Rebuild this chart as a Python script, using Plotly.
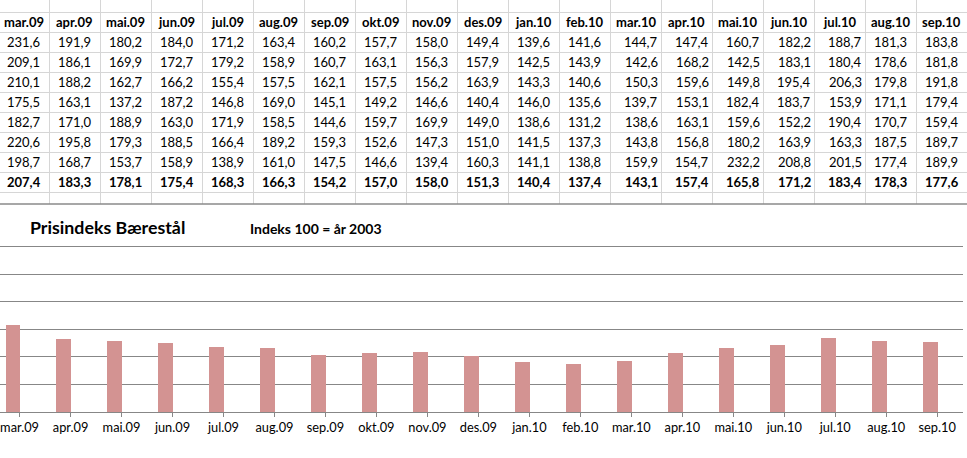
import plotly.graph_objects as go

W, H = 967, 458

months = ["mar.09", "apr.09", "mai.09", "jun.09", "jul.09", "aug.09", "sep.09", "okt.09",
          "nov.09", "des.09", "jan.10", "feb.10", "mar.10", "apr.10", "mai.10", "jun.10",
          "jul.10", "aug.10", "sep.10"]

row1 = [231.6, 191.9, 180.2, 184.0, 171.2, 163.4, 160.2, 157.7, 158.0, 149.4, 139.6, 141.6, 144.7, 147.4, 160.7, 182.2, 188.7, 181.3, 183.8]
row2 = [209.1, 186.1, 169.9, 172.7, 179.2, 158.9, 160.7, 163.1, 156.3, 157.9, 142.5, 143.9, 142.6, 168.2, 142.5, 183.1, 180.4, 178.6, 181.8]
row3 = [210.1, 188.2, 162.7, 166.2, 155.4, 157.5, 162.1, 157.5, 156.2, 163.9, 143.3, 140.6, 150.3, 159.6, 149.8, 195.4, 206.3, 179.8, 191.8]
row4 = [175.5, 163.1, 137.2, 187.2, 146.8, 169.0, 145.1, 149.2, 146.6, 140.4, 146.0, 135.6, 139.7, 153.1, 182.4, 183.7, 153.9, 171.1, 179.4]
row5 = [182.7, 171.0, 188.9, 163.0, 171.9, 158.5, 144.6, 159.7, 169.9, 149.0, 138.6, 131.2, 138.6, 163.1, 159.6, 152.2, 190.4, 170.7, 159.4]
row6 = [220.6, 195.8, 179.3, 188.5, 166.4, 189.2, 159.3, 152.6, 147.3, 151.0, 141.5, 137.3, 143.8, 156.8, 180.2, 163.9, 163.3, 187.5, 189.7]
row7 = [198.7, 168.7, 153.7, 158.9, 138.9, 161.0, 147.5, 146.6, 139.4, 160.3, 141.1, 138.8, 159.9, 154.7, 232.2, 208.8, 201.5, 177.4, 189.9]
average = [207.4, 183.3, 178.1, 175.4, 168.3, 166.3, 154.2, 157.0, 158.0, 151.3, 140.4, 137.4, 143.1, 157.4, 165.8, 171.2, 183.4, 178.3, 177.6]

data_rows = [row1, row2, row3, row4, row5, row6, row7]
right_aligned_cols = {"mar.10", "apr.10", "mai.10", "jun.10", "jul.10"}

title_text = "Prisindeks Bærestål"
subtitle_text = "Indeks 100 = år 2003"

FONT = "Lato"
BAR_COLOR = "#D39392"
GRID = "#878787"
CELL_GRID = "#D6D6D6"

def fmt(v):
    return f"{v:.1f}".replace(".", ",")

def py(p):  # pixel y -> paper y
    return 1 - p / H

fig = go.Figure()

# ---- chart ----
fig.add_trace(go.Bar(
    x=list(range(len(months))), y=average,
    marker=dict(color=BAR_COLOR, line=dict(width=0)),
    width=0.285, offset=-0.276, hoverinfo="skip",
))

cat_px = 50.98
x_right_px = 962.7
x_lo = 18.5 - x_right_px / cat_px

y_min, y_max = 50, 353
px_per_unit = (412 - 246.7) / 300.0
y_top_px = 412 - (y_max - y_min) * px_per_unit

# ---- table axes ----
col_px = 51.0
col0_center = 23.8
row_px = 20.0
row0_center = 22.3
table_bottom_px = 204.0

annotations = []
n = len(months)
for i, m in enumerate(months):
    annotations.append(dict(x=i, y=0, xref="x2", yref="y2", text=f"<b>{m}</b>",
                            showarrow=False, xanchor="center", yanchor="middle",
                            font=dict(family=FONT, size=13, color="black")))
    rows_all = [r[i] for r in data_rows] + [average[i]]
    for r, v in enumerate(rows_all):
        t = fmt(v)
        if r == len(rows_all) - 1:
            t = f"<b>{t}</b>"
        if m in right_aligned_cols:
            ax, anc = i + 0.5 - 2.0 / col_px, "right"
        else:
            ax, anc = i, "center"
        annotations.append(dict(x=ax, y=r + 1, xref="x2", yref="y2", text=t,
                                showarrow=False, xanchor=anc, yanchor="middle",
                                borderpad=0,
                                font=dict(family=FONT, size=13, color="black")))

annotations.append(dict(x=29.3 / W, y=py(226.7), xref="paper", yref="paper",
                        text=f"<b>{title_text}</b>", showarrow=False,
                        xanchor="left", yanchor="middle", borderpad=0,
                        font=dict(family=FONT, size=17.8, color="black")))
annotations.append(dict(x=249.3 / W, y=py(228), xref="paper", yref="paper",
                        text=f"<b>{subtitle_text}</b>", showarrow=False,
                        xanchor="left", yanchor="middle", borderpad=0,
                        font=dict(family=FONT, size=14, color="black")))

# invisible trace to activate table axes
fig.add_trace(go.Scatter(x=[0], y=[0], xaxis="x2", yaxis="y2", mode="markers",
                         marker=dict(opacity=0), hoverinfo="skip", showlegend=False))

fig.update_layout(
    width=W, height=H,
    margin=dict(l=0, r=0, t=0, b=0),
    paper_bgcolor="white", plot_bgcolor="rgba(0,0,0,0)",
    showlegend=False,
    bargap=0,
    xaxis=dict(
        domain=[0, x_right_px / W],
        range=[x_lo, 18.5],
        tickmode="array", tickvals=list(range(n)), ticktext=months,
        ticks="outside", ticklen=4, tickcolor=GRID, tickwidth=1,
        tickson="boundaries",
        showline=True, linecolor=GRID, linewidth=1,
        showgrid=False, zeroline=False,
        tickfont=dict(family=FONT, size=12.8, color="black"),
        fixedrange=True,
    ),
    yaxis=dict(
        domain=[py(412), py(y_top_px)],
        range=[y_min, y_max], dtick=50, tick0=0,
        showgrid=True, gridcolor=GRID, gridwidth=1,
        showticklabels=False, zeroline=False, showline=False,
        fixedrange=True,
    ),
    xaxis2=dict(
        domain=[0, 1], anchor="y2",
        range=[-col0_center / col_px, (W - col0_center) / col_px],
        tickmode="array", tickvals=[i + 0.5 for i in range(-1, n)],
        showgrid=True, gridcolor=CELL_GRID, gridwidth=1,
        showticklabels=False, zeroline=False, showline=False, ticks="",
        fixedrange=True,
    ),
    yaxis2=dict(
        domain=[py(table_bottom_px), 1], anchor="x2",
        range=[(table_bottom_px - row0_center) / row_px, -row0_center / row_px],
        tickmode="array", tickvals=[k - 0.5 for k in range(0, 10)],
        showgrid=True, gridcolor=CELL_GRID, gridwidth=1,
        showticklabels=False, zeroline=False, showline=False, ticks="",
        fixedrange=True,
    ),
    annotations=annotations,
    shapes=[dict(type="line", xref="paper", yref="paper", x0=0, x1=1,
                 y0=py(table_bottom_px), y1=py(table_bottom_px),
                 line=dict(color="#8A8A8A", width=1.5))],
)

fig.write_html("out.html", config={"displayModeBar": False},
               post_script="document.body.style.margin='0';document.body.style.overflow='hidden';")
